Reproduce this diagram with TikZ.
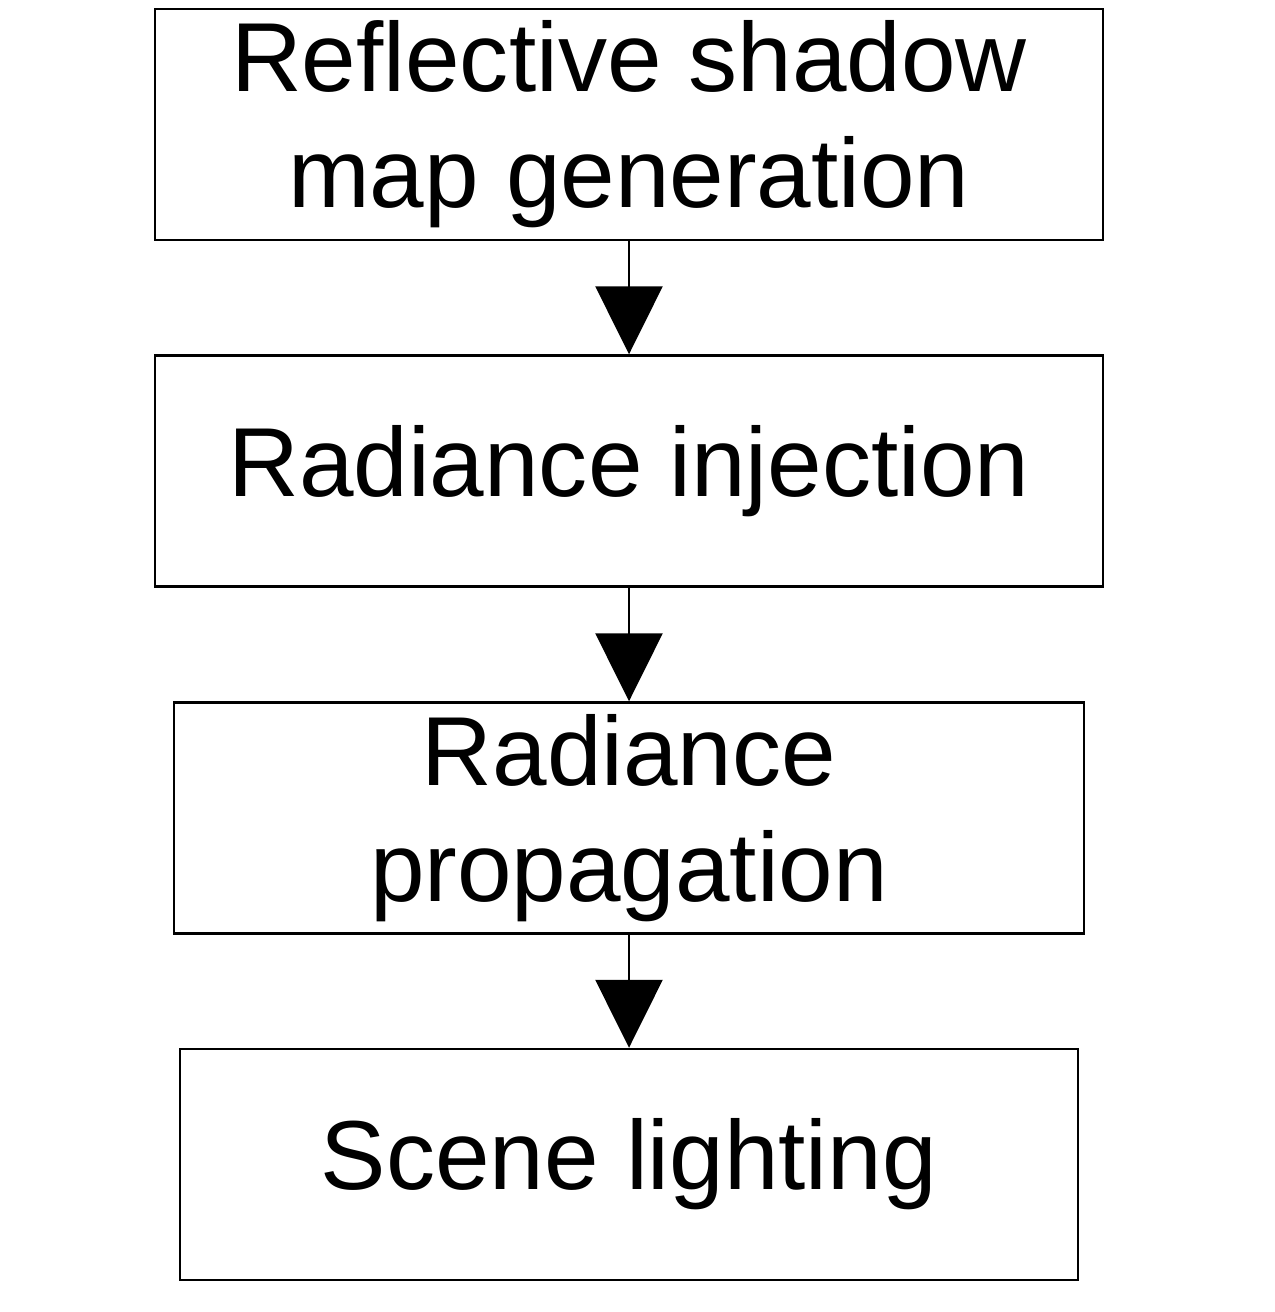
\documentclass[tikz,border=0pt]{standalone}
\usepackage{fontspec}
\setmainfont{Liberation Sans}
\usepackage{tikz}
\usetikzlibrary{arrows.meta,positioning}

\begin{document}
\begin{tikzpicture}[
    stagebox/.style={draw,line width=1.4pt,minimum height=4.62cm,align=center,
      font=\fontsize{55.8}{66}\selectfont,inner sep=0pt},
    flowarrow/.style={-{Triangle[width=1.34cm,length=1.36cm]},line width=1.4pt}]
        \useasboundingbox (0,0) rectangle (25.48,-26.24);
        \node[stagebox,minimum width=18.96cm] (rsm) at (12.58,-2.49) {Reflective shadow\\map generation};
        \node[stagebox,minimum width=18.96cm] (inj) at (12.58,-9.42) {Radiance injection};
        \node[stagebox,minimum width=18.2cm] (prop) at (12.58,-16.36) {Radiance\\propagation};
        \node[stagebox,minimum width=17.96cm] (light) at (12.58,-23.29) {Scene lighting};
        \draw[flowarrow] (rsm)--(inj);
        \draw[flowarrow] (inj)--(prop);
        \draw[flowarrow] (prop)--(light);
      \end{tikzpicture}
\end{document}
